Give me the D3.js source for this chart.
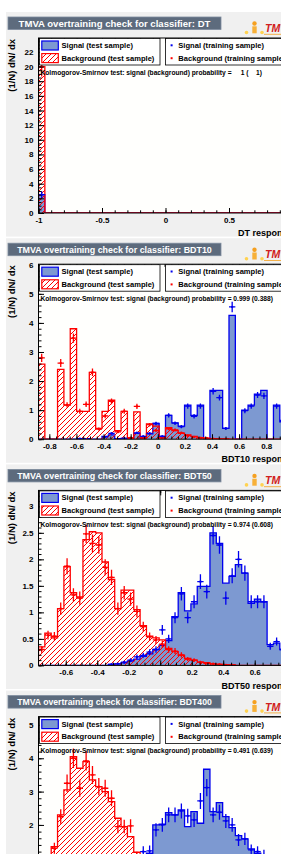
<!DOCTYPE html>
<html><head><meta charset="utf-8">
<script src="https://cdn.jsdelivr.net/npm/d3@7"></script>
<style>
html,body{margin:0;padding:0;background:#fff;overflow:hidden}
svg{display:block;font-family:"Liberation Sans",Arial,Helvetica,sans-serif}
</style></head><body>
<svg id="c" width="281" height="854"></svg>
<script>
// ---------------- data ----------------
const classifiers = ["DT", "BDT10", "BDT50", "BDT400"];
const ksValues = ["    1 (    1)", "0.999 (0.388)", "0.974 (0.608)", "0.491 (0.639)"];
const xDomains = [[-1, 1], [-0.880, 0.994], [-0.773, 0.840], [-0.47, 0.53]];
const yMaxima = [23.9, 6.02, 3.30, 5.25];
const xTickValues = [
  [-1, -0.5, 0, 0.5, 1],
  [-0.8, -0.6, -0.4, -0.2, 0, 0.2, 0.4, 0.6, 0.8],
  [-0.6, -0.4, -0.2, 0, 0.2, 0.4, 0.6, 0.8],
  [-0.4, -0.2, 0, 0.2, 0.4]
];
const yTickValues = [
  [0, 2, 4, 6, 8, 10, 12, 14, 16, 18, 20, 22],
  [0, 1, 2, 3, 4, 5, 6],
  [0, 0.5, 1, 1.5, 2, 2.5, 3],
  [0, 1, 2, 3, 4, 5]
];
const legendLabels = ["Signal (test sample)", "Background (test sample)", "Signal (training sample)", "Background (training sample)"];

// 40 bins per histogram
const dtSigTest  = [2.5,0,0,0,0,0,0,0,0,0, 0,0,0,0,0,0,0,0,0,0, 0,0,0,0,0,0,0,0,0,0, 0,0,0,0,0,0,0,0,0,17.5];
const dtBkgTest  = [20,0,0,0,0,0,0,0,0,0, 0,0,0,0,0,0,0,0,0,0, 0,0,0,0,0,0,0,0,0,0, 0,0,0,0,0,0,0,0,0,0];
const dtSigTrain = [2.5,0,0,0,0,0,0,0,0,0, 0,0,0,0,0,0,0,0,0,0, 0,0,0,0,0,0,0,0,0,0, 0,0,0,0,0,0,0,0,0,17.5];
const dtBkgTrain = [20,0,0,0,0,0,0,0,0,0, 0,0,0,0,0,0,0,0,0,0, 0,0,0,0,0,0,0,0,0,0, 0,0,0,0,0,0,0,0,0,0];

const bdt10SigTest  = [0,0,0,0,0,0,0,0.02,0,0, 0.1,0.15,0.02,0.03,0.02,0.2,0.03,0.18,0.54,0.1, 0.82,0.56,0.45,1.17,0.82,1.17,0,1.68,1.68,0.37, 4.26,0,1.0,1.17,1.55,1.68,0,1.17,0.6,0.3];
const bdt10BkgTest  = [2.58,0,0,2.4,1.17,3.8,0.96,0.96,2.3,0.37, 0.96,1.34,0.29,0.96,0.03,0.94,0.05,0.53,0.45,0.05, 0.4,0.3,0.2,0.15,0.1,0.05,0.03,0.02,0.01,0.01, 0,0,0,0,0,0,0,0,0,0];
const bdt10SigTrain = [0,0,0,0,0,0,0.02,0,0,0, 0.08,0.2,0,0.03,0,0.22,0.1,0.2,0.54,0.1, 0.82,0.55,0.43,1.14,0.79,1.14,0,1.65,1.43,0.37, 4.55,0,0.98,1.14,1.52,1.49,0,1.14,0.65,0.3];
const bdt10BkgTrain = [2.8,0,0,2.62,1.18,3.48,0.96,1.2,2.3,0.35, 0.8,1.3,0.25,0.96,0.05,1.13,0.05,0.5,0.3,0.05, 0.36,0.32,0.22,0.12,0.08,0.05,0.04,0.02,0.01,0.01, 0,0,0,0,0,0,0,0,0,0];

const bdt50SigTest  = [0,0,0,0,0,0,0,0,0,0, 0,0.02,0.03,0.05,0.08,0.12,0.17,0.22,0.3,0.38, 0.47,0.92,1.37,1.03,1.16,1.49,1.49,2.5,2.3,1.55, 1.68,1.9,1.74,1.17,1.25,1.2,0.39,0.42,0.3,0.15];
const bdt50BkgTest  = [0.35,0.61,0.52,1.07,1.86,1.37,1.29,2.37,2.52,2.5, 1.95,1.62,1.07,1.42,1.42,1.05,0.75,0.55,0.52,0.48, 0.32,0.26,0.19,0.13,0.1,0.06,0.05,0.03,0.02,0.01, 0.01,0,0,0,0,0,0,0,0,0];
const bdt50SigTrain = [0,0,0,0,0,0,0,0,0,0, 0,0.02,0.03,0.06,0.1,0.16,0.19,0.25,0.3,0.67, 0.5,0.9,1.35,0.9,1.2,1.58,1.39,2.45,2.27,1.27, 1.69,2.0,1.74,1.2,1.2,1.2,0.36,0.45,0.3,0.15];
const bdt50BkgTrain = [0.3,0.57,0.55,1.07,1.87,1.33,1.27,2.48,2.3,2.27, 1.85,1.66,1.07,1.37,1.25,1.02,0.73,0.54,0.48,0.4, 0.3,0.27,0.2,0.12,0.1,0.06,0.04,0.03,0.02,0.01, 0.01,0,0,0,0,0,0,0,0,0];

const bdt400SigTest  = [0,0,0,0,0,0,0,0,0,0, 0.05,0.1,0.2,0.35,0.55,0.8,1.05,1.15,2.0,2.02, 2.37,2.3,2.45,1.95,2.4,2.05,3.67,2.4,2.67,2.25, 1.92,1.68,1.58,1.28,1.15,1.1,0.9,0.7,0.5,0.3];
const bdt400BkgTest  = [0.3,0.75,1.35,2.3,3.05,4.05,3.7,3.9,3.35,3.15, 3.0,2.7,2.2,1.95,1.65,1.18,0.6,0.3,0.15,0.08, 0.04,0.02,0.01,0,0,0,0,0,0,0, 0,0,0,0,0,0,0,0,0,0];
const bdt400SigTrain = [0,0,0,0,0,0,0,0,0,0, 0.05,0.12,0.2,0.3,0.6,0.85,1.2,1.22,1.85,2.0, 2.3,2.3,2.42,2.27,2.15,2.72,3.12,2.3,2.38,2.12, 2.0,1.55,1.58,1.25,1.2,1.1,0.9,0.7,0.5,0.3];
const bdt400BkgTrain = [0.35,0.7,1.3,2.25,3.25,4.0,3.1,3.92,3.5,3.15, 3.1,2.8,1.95,1.95,1.97,1.05,0.6,0.3,0.15,0.08, 0.04,0.02,0.01,0,0,0,0,0,0,0, 0,0,0,0,0,0,0,0,0,0];

const panels = [
  {sigTest: dtSigTest, bkgTest: dtBkgTest, sigTrain: dtSigTrain, bkgTrain: dtBkgTrain},
  {sigTest: bdt10SigTest, bkgTest: bdt10BkgTest, sigTrain: bdt10SigTrain, bkgTrain: bdt10BkgTrain},
  {sigTest: bdt50SigTest, bkgTest: bdt50BkgTest, sigTrain: bdt50SigTrain, bkgTrain: bdt50BkgTrain},
  {sigTest: bdt400SigTest, bkgTest: bdt400BkgTest, sigTrain: bdt400SigTrain, bkgTrain: bdt400BkgTrain}
];

// ---------------- layout / style ----------------
const W = 281;
const panelTops = [17, 243.2, 469.4, 695.6];
const frameL = 38.5, frameR = 292.5, frameTopOff = 21, frameBotOff = 196;
const minorXStep = [0.1, 0.05, 0.05, 0.05];
const minorYStep = [0.5, 0.2, 0.1, 0.2];
const errScale = [0.3, 0.085, 0.11, 0.145];
const titleWidths = [192, 195, 195, 195];
const SIG_LINE = "#0000ee", SIG_FILL = "#7d99d1", BKG_LINE = "#ff0000";

const svg = d3.select("#c");
const defs = svg.append("defs");
const pat = defs.append("pattern").attr("id", "hatchRed").attr("patternUnits", "userSpaceOnUse")
  .attr("width", 5).attr("height", 5);
[[-1, 1, 1, -1], [0, 5, 5, 0], [4, 6, 6, 4]].forEach(s => {
  pat.append("line").attr("x1", s[0]).attr("y1", s[1]).attr("x2", s[2]).attr("y2", s[3])
    .style("stroke", BKG_LINE).style("stroke-width", "1px");
});

function fitFont(sel, target) {
  const fs = parseFloat(sel.attr("font-size"));
  const w = sel.node().getComputedTextLength();
  const nf = w > 0 ? fs * target / w : fs;
  sel.attr("font-size", nf);
  return nf;
}
function fmt(d) { return String(Math.round(d * 100) / 100); }
function stepRange(a, b, s) {
  const out = [];
  for (let k = Math.ceil(a / s - 1e-9); k * s <= b + 1e-9; k++) out.push(Math.round(k * s * 1000) / 1000);
  return out;
}

// measure font sizes once
const probe = svg.append("g");
const legProbe = probe.append("text").attr("font-weight", "bold").attr("font-size", 8).text(legendLabels[1]);
const legendFS = fitFont(legProbe, 93);
const ksProbe = probe.append("text").attr("font-weight", "bold").attr("font-size", 6)
  .style("white-space", "pre").text("Kolmogorov-Smirnov test: signal (background) probability = " + ksValues[1]);
const ksFS = fitFont(ksProbe, 233);
probe.remove();

panels.forEach((p, i) => {
  const T = panelTops[i];
  const g = svg.append("g");
  const fTop = T + frameTopOff, fBot = T + frameBotOff;

  // pad background
  g.append("rect").attr("x", 6).attr("y", T - 5).attr("width", W).attr("height", 224.6).attr("fill", "#f0f0f0");

  // title box
  g.append("rect").attr("x", 8).attr("y", T).attr("width", 213).attr("height", 12.5)
    .attr("fill", "#5d6b7d").attr("stroke", "#7d8b9d").attr("stroke-width", 0.8);
  const tt = g.append("text").attr("x", 114.5).attr("y", T + 6.4).attr("dy", "0.35em")
    .attr("text-anchor", "middle").attr("fill", "#ffffff").attr("font-weight", "bold").attr("font-size", 9)
    .text("TMVA overtraining check for classifier: " + classifiers[i]);
  fitFont(tt, titleWidths[i]);

  // TMVA logo (partially visible)
  const lg = g.append("g");
  lg.append("circle").attr("cx", 254.5).attr("cy", T + 6.5).attr("r", 2.2).attr("fill", "#f5a020");
  lg.append("rect").attr("x", 252.3).attr("y", T + 9.3).attr("width", 4.4).attr("height", 7).attr("fill", "#f7b038");
  lg.append("circle").attr("cx", 246.5).attr("cy", T + 15.5).attr("r", 1.8).attr("fill", "#ffd250");
  lg.append("circle").attr("cx", 262).attr("cy", T + 15.5).attr("r", 1.8).attr("fill", "#ffd250");
  lg.append("text").attr("x", 265).attr("y", T + 15).attr("font-size", 10.5).attr("font-weight", "bold")
    .attr("font-style", "italic").attr("fill", "#d02020").text("TMVA");
  lg.append("line").attr("x1", 264).attr("x2", 300).attr("y1", T + 17.3).attr("y2", T + 17.3)
    .attr("stroke", "#f3b04a").attr("stroke-width", 1);

  // scales
  const x = d3.scaleLinear().domain(xDomains[i]).range([frameL, frameR]);
  const y = d3.scaleLinear().domain([0, yMaxima[i]]).range([fBot, fTop]);
  const [x0, x1] = xDomains[i];
  const nb = p.sigTest.length;
  const edges = d3.range(nb + 1).map(k => x0 + k * (x1 - x0) / nb);

  // frame fill
  g.append("rect").attr("x", frameL).attr("y", fTop).attr("width", frameR - frameL).attr("height", fBot - fTop)
    .attr("fill", "#fffffd");

  const clipId = "clip" + i;
  defs.append("clipPath").attr("id", clipId).append("rect")
    .attr("x", frameL).attr("y", fTop).attr("width", frameR - frameL).attr("height", fBot - fTop);
  const plot = g.append("g").attr("clip-path", `url(#${clipId})`);

  const line = d3.line().x(d => x(d.x)).y(d => y(d.v)).curve(d3.curveStepAfter);
  function histPts(vals) {
    const pts = [{x: edges[0], v: 0}];
    vals.forEach((v, k) => pts.push({x: edges[k], v: v}));
    pts.push({x: edges[nb], v: 0});
    return pts;
  }
  plot.append("path").attr("d", line(histPts(p.sigTest)))
    .attr("fill", SIG_FILL).attr("stroke", SIG_LINE).attr("stroke-width", 1.3);
  plot.append("path").attr("d", line(histPts(p.bkgTest)))
    .style("fill", "url(#hatchRed)").attr("stroke", BKG_LINE).attr("stroke-width", 1.3);

  function drawTrain(vals, color) {
    const mg = plot.append("g").attr("stroke", color).attr("stroke-width", 1.3);
    vals.forEach((v, k) => {
      if (v <= 0) return;
      const e = errScale[i] * Math.sqrt(v);
      const cx = x((edges[k] + edges[k + 1]) / 2);
      mg.append("line").attr("x1", x(edges[k])).attr("x2", x(edges[k + 1])).attr("y1", y(v)).attr("y2", y(v));
      mg.append("line").attr("x1", cx).attr("x2", cx).attr("y1", y(Math.max(0, v - e))).attr("y2", y(v + e));
      mg.append("rect").attr("x", cx - 1).attr("y", y(v) - 1).attr("width", 2).attr("height", 2)
        .attr("fill", color).attr("stroke", "none");
    });
  }
  drawTrain(p.bkgTrain, BKG_LINE);
  drawTrain(p.sigTrain, SIG_LINE);

  // axes
  const minorX = stepRange(x0, x1, minorXStep[i]);
  const minorY = stepRange(0, yMaxima[i], minorYStep[i]);
  const axG = g.append("g");
  function clean(s) { s.select(".domain").remove(); s.selectAll("line").attr("stroke", "#000"); }
  axG.append("g").attr("transform", `translate(0,${fBot})`)
    .call(d3.axisBottom(x).tickValues(minorX).tickSize(-2.7).tickFormat("")).call(clean);
  axG.append("g").attr("transform", `translate(0,${fBot})`)
    .call(d3.axisBottom(x).tickValues(xTickValues[i]).tickSize(-5).tickPadding(4).tickFormat(fmt)).call(clean)
    .selectAll("text").attr("font-size", 8).attr("font-weight", "bold").attr("fill", "#000")
    .attr("font-family", "Liberation Sans, Arial, sans-serif");
  axG.append("g").attr("transform", `translate(0,${fTop})`)
    .call(d3.axisTop(x).tickValues(minorX).tickSize(-2.7).tickFormat("")).call(clean);
  axG.append("g").attr("transform", `translate(0,${fTop})`)
    .call(d3.axisTop(x).tickValues(xTickValues[i]).tickSize(-5).tickFormat("")).call(clean);
  axG.append("g").attr("transform", `translate(${frameL},0)`)
    .call(d3.axisLeft(y).tickValues(minorY).tickSize(-3).tickFormat("")).call(clean);
  axG.append("g").attr("transform", `translate(${frameL},0)`)
    .call(d3.axisLeft(y).tickValues(yTickValues[i]).tickSize(-5.5).tickPadding(5).tickFormat(fmt)).call(clean)
    .selectAll("text").attr("font-size", 8).attr("font-weight", "bold").attr("fill", "#000")
    .attr("font-family", "Liberation Sans, Arial, sans-serif");

  // frame border
  g.append("rect").attr("x", frameL).attr("y", fTop).attr("width", frameR - frameL).attr("height", fBot - fTop)
    .attr("fill", "none").attr("stroke", "#000").attr("stroke-width", 1);

  // axis titles
  g.append("text").attr("x", frameR).attr("y", T + 216).attr("dy", "0.35em").attr("text-anchor", "end")
    .attr("font-size", 9).attr("font-weight", "bold").text(classifiers[i] + " response");
  g.append("text").attr("transform", `translate(12,${fTop + 1}) rotate(-90)`).attr("dy", "0.35em")
    .attr("text-anchor", "end").attr("font-size", 9.5).attr("font-weight", "bold").text("(1/N) dN/ dx");

  // legends
  const L = g.append("g").attr("font-size", legendFS).attr("font-weight", "bold");
  L.append("rect").attr("x", 39.5).attr("y", fTop + 0.5).attr("width", 120.5).attr("height", 26.5)
    .attr("fill", "#fff").attr("stroke", "#000").attr("stroke-width", 0.8);
  L.append("rect").attr("x", 41.8).attr("y", fTop + 3).attr("width", 16.5).attr("height", 9)
    .attr("fill", SIG_FILL).attr("stroke", SIG_LINE).attr("stroke-width", 1.2);
  L.append("rect").attr("x", 41.8).attr("y", fTop + 15.6).attr("width", 16.5).attr("height", 9)
    .style("fill", "url(#hatchRed)").attr("stroke", BKG_LINE).attr("stroke-width", 1.2);
  L.append("text").attr("x", 61.5).attr("y", fTop + 7.3).attr("dy", "0.35em").text(legendLabels[0]);
  L.append("text").attr("x", 61.5).attr("y", fTop + 20.2).attr("dy", "0.35em").text(legendLabels[1]);
  L.append("rect").attr("x", 165.5).attr("y", fTop + 0.5).attr("width", 140).attr("height", 26.5)
    .attr("fill", "#fff").attr("stroke", "#000").attr("stroke-width", 0.8);
  L.append("rect").attr("x", 170.6).attr("y", fTop + 6.3).attr("width", 2).attr("height", 2).attr("fill", SIG_LINE);
  L.append("rect").attr("x", 170.6).attr("y", fTop + 19.2).attr("width", 2).attr("height", 2).attr("fill", BKG_LINE);
  L.append("text").attr("x", 178.3).attr("y", fTop + 7.3).attr("dy", "0.35em").text(legendLabels[2]);
  L.append("text").attr("x", 178.3).attr("y", fTop + 20.2).attr("dy", "0.35em").text(legendLabels[3]);

  // KS text
  g.append("text").attr("x", 40.5).attr("y", T + 55.5).attr("dy", "0.35em")
    .attr("font-size", ksFS).attr("font-weight", "bold").style("white-space", "pre")
    .text("Kolmogorov-Smirnov test: signal (background) probability = " + ksValues[i]);
});
</script>
</body></html>
